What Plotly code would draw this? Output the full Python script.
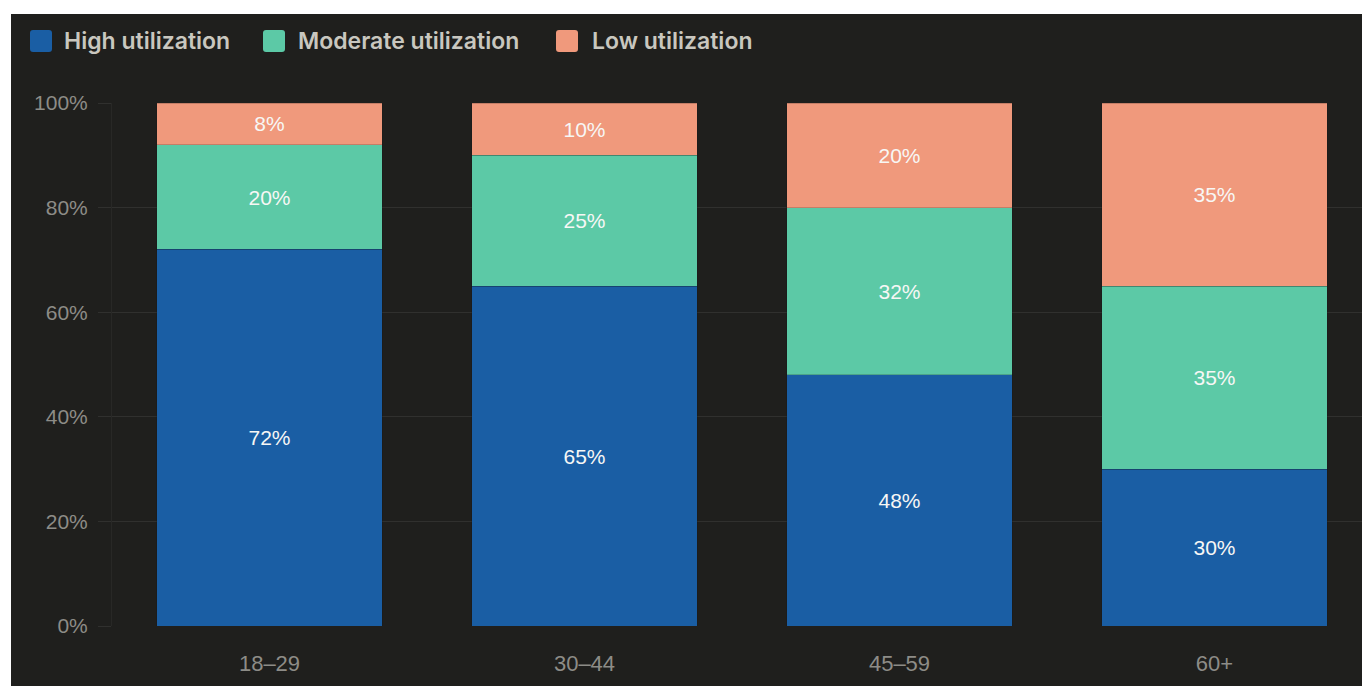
import plotly.graph_objects as go

# Data
age_groups = ["18–29", "30–44", "45–59", "60+"]
series_names = ["High utilization", "Moderate utilization", "Low utilization"]
high_util = [72, 65, 48, 30]
moderate_util = [20, 25, 32, 35]
low_util = [8, 10, 20, 35]
y_tick_vals = [0, 20, 40, 60, 80, 100]
y_tick_text = ["0%", "20%", "40%", "60%", "80%", "100%"]

series_values = [high_util, moderate_util, low_util]
series_colors = ["#1a5ea4", "#5cc9a6", "#f0997c"]

BG = "#1f1f1d"
GRID = "#30302e"
TICK_FONT = "#8d8c87"
LEGEND_FONT = "#c9c7bf"

W, H = 1362, 686
ML, MR, MT, MB = 112, 0, 103, 60
PW = W - ML - MR
PH = H - MT - MB


def px_to_paper_x(px):
    return (px - ML) / PW


def px_to_paper_y(py):
    return (H - MB - py) / PH


fig = go.Figure()
for name, vals, color in zip(series_names, series_values, series_colors):
    fig.add_trace(go.Bar(
        x=age_groups,
        y=vals,
        name=name,
        marker=dict(color=color, line=dict(color="rgba(20,20,20,0.2)", width=1)),
        width=0.717,
        text=[f"{v}%" for v in vals],
        texttemplate="%{text}",
        textposition="inside",
        insidetextanchor="middle",
        textangle=0,
        textfont=dict(family="Liberation Sans, Arial, sans-serif", size=21, color="#f7f7f5"),
        hoverinfo="skip",
        showlegend=False,
    ))

shapes = [
    # white strips along top and left edges of the page
    dict(type="rect", xref="paper", yref="paper", layer="above",
         x0=px_to_paper_x(0), x1=px_to_paper_x(W), y0=px_to_paper_y(14), y1=px_to_paper_y(0),
         fillcolor="white", line=dict(width=0)),
    dict(type="rect", xref="paper", yref="paper", layer="above",
         x0=px_to_paper_x(0), x1=px_to_paper_x(11), y0=px_to_paper_y(H), y1=px_to_paper_y(0),
         fillcolor="white", line=dict(width=0)),
]

annotations = []
legend_square_x = [30, 263, 556]
legend_text_x = [62, 296, 590]
sq = 22
sq_top = 30
r = 3
for name, color, sx, tx in zip(series_names, series_colors, legend_square_x, legend_text_x):
    x0, x1 = px_to_paper_x(sx), px_to_paper_x(sx + sq)
    y0, y1 = px_to_paper_y(sq_top + sq), px_to_paper_y(sq_top)
    rx = r / PW
    ry = r / PH
    path = (f"M{x0 + rx},{y0} L{x1 - rx},{y0} Q{x1},{y0} {x1},{y0 + ry} "
            f"L{x1},{y1 - ry} Q{x1},{y1} {x1 - rx},{y1} "
            f"L{x0 + rx},{y1} Q{x0},{y1} {x0},{y1 - ry} "
            f"L{x0},{y0 + ry} Q{x0},{y0} {x0 + rx},{y0} Z")
    shapes.append(dict(type="path", xref="paper", yref="paper", path=path,
                       fillcolor=color, line=dict(width=0)))
    annotations.append(dict(
        x=px_to_paper_x(tx), y=px_to_paper_y(41), xref="paper", yref="paper",
        xanchor="left", yanchor="middle", showarrow=False, text=name,
        font=dict(family="Inter, sans-serif", size=23, color=LEGEND_FONT, weight=600),
    ))

fig.update_layout(
    width=W, height=H,
    margin=dict(l=ML, r=MR, t=MT, b=MB, pad=0),
    barmode="stack",
    paper_bgcolor=BG,
    plot_bgcolor=BG,
    showlegend=False,
    shapes=shapes,
    annotations=annotations,
    xaxis=dict(
        type="category",
        range=[-0.5, -0.5 + PW / 315],
        showgrid=False,
        zeroline=False,
        showline=False,
        ticks="",
        tickfont=dict(family="Liberation Sans, Arial, sans-serif", size=22, color=TICK_FONT),
        ticklabelstandoff=22,
    ),
    yaxis=dict(
        range=[0, 100],
        tickvals=y_tick_vals,
        ticktext=y_tick_text,
        showgrid=True,
        gridcolor=GRID,
        gridwidth=1,
        zeroline=False,
        showline=True,
        linecolor="#282826",
        linewidth=1,
        ticks="outside",
        ticklen=13,
        tickcolor=GRID,
        tickfont=dict(family="Liberation Sans, Arial, sans-serif", size=21, color=TICK_FONT),
        ticklabelstandoff=6,
    ),
)

fig.write_html("out.html")
